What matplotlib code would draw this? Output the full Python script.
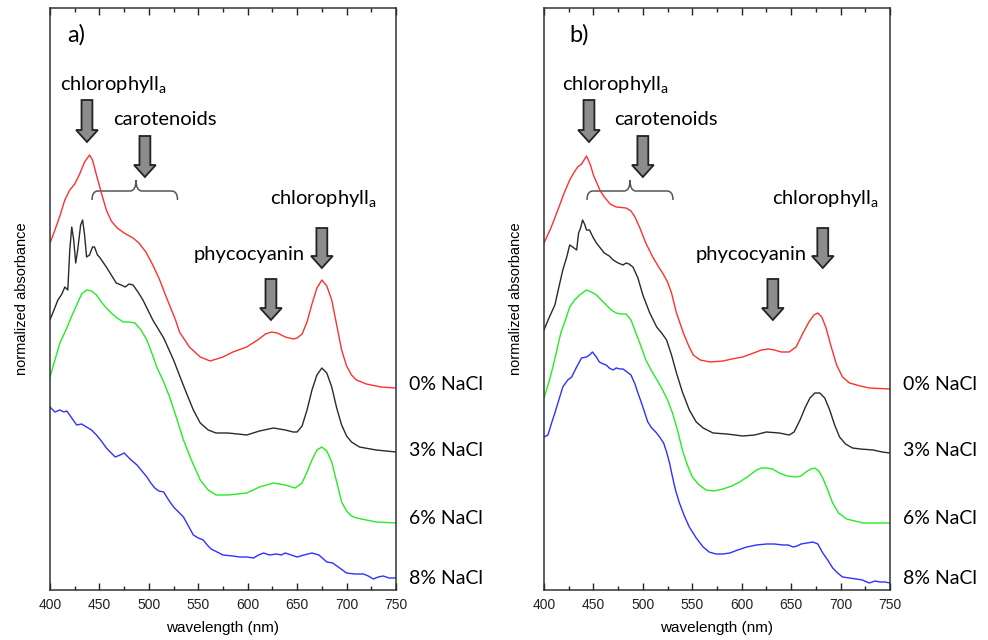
import numpy as np
import matplotlib
matplotlib.use("Agg")
import matplotlib.pyplot as plt
from matplotlib.patches import FancyArrow, PathPatch
from matplotlib.path import Path
import matplotlib.transforms as mtransforms

plt.rcParams['font.family'] = ['Liberation Sans', 'DejaVu Sans']
plt.rcParams['mathtext.fontset'] = 'custom'
plt.rcParams['mathtext.rm'] = 'Lato'

# ---- panel a) data (wavelength nm, normalized absorbance, stacked) ----
a_red_x = [400, 405, 410, 415, 420, 425, 430, 435, 440, 443, 447, 452, 457, 462, 468, 475,
           484, 490, 497, 504, 511, 518, 527, 531, 541, 552, 562, 575, 585, 599, 610, 618,
           624, 630, 638, 646, 650, 655, 660, 665, 670, 675, 680, 685, 690, 695, 700, 705,
           710, 720, 735, 750]
a_red_y = [3.47, 3.60, 3.74, 3.90, 4.00, 4.06, 4.16, 4.28, 4.35, 4.30, 4.15, 3.97, 3.80, 3.69,
           3.62, 3.57, 3.52, 3.47, 3.38, 3.25, 3.10, 2.92, 2.70, 2.58, 2.43, 2.33, 2.29, 2.33,
           2.38, 2.43, 2.50, 2.56, 2.58, 2.57, 2.53, 2.51, 2.52, 2.56, 2.68, 2.86, 3.02, 3.10,
           3.04, 2.90, 2.65, 2.40, 2.24, 2.15, 2.10, 2.06, 2.03, 2.02]

a_blk_x = [400, 404, 408, 412, 415, 418, 420, 422, 424, 426, 428, 431, 433, 435, 437, 440,
           443, 445, 448, 450, 457, 462, 467, 472, 476, 480, 484, 489, 494, 499, 504, 515,
           525, 532, 538, 545, 552, 560, 568, 580, 590, 599, 612, 626, 638, 646, 650, 655,
           660, 665, 670, 675, 680, 685, 690, 695, 700, 705, 713, 730, 750]
a_blk_y = [2.70, 2.80, 2.90, 2.96, 3.03, 3.00, 3.40, 3.63, 3.50, 3.27, 3.40, 3.65, 3.70, 3.55,
           3.33, 3.35, 3.43, 3.43, 3.35, 3.33, 3.23, 3.15, 3.07, 3.05, 3.03, 3.06, 3.05, 2.98,
           2.90, 2.80, 2.70, 2.52, 2.30, 2.12, 1.97, 1.80, 1.67, 1.60, 1.57, 1.57, 1.56, 1.55,
           1.59, 1.62, 1.60, 1.58, 1.58, 1.64, 1.80, 2.00, 2.15, 2.22, 2.17, 2.03, 1.82, 1.65,
           1.54, 1.48, 1.43, 1.40, 1.38]

a_grn_x = [400, 405, 410, 417, 422, 427, 432, 437, 442, 447, 452, 457, 463, 468, 474, 480,
           486, 492, 498, 503, 508, 515, 521, 528, 535, 543, 552, 560, 568, 580, 599, 612,
           626, 638, 648, 655, 660, 665, 670, 675, 680, 685, 690, 695, 700, 705, 710, 730, 750]
a_grn_y = [2.13, 2.30, 2.47, 2.62, 2.74, 2.85, 2.96, 3.00, 2.99, 2.95, 2.88, 2.82, 2.76, 2.72,
           2.68, 2.68, 2.67, 2.60, 2.50, 2.37, 2.23, 2.08, 1.93, 1.72, 1.50, 1.30, 1.10, 1.00,
           0.95, 0.95, 0.97, 1.03, 1.07, 1.05, 1.02, 1.07, 1.18, 1.30, 1.40, 1.43, 1.39, 1.28,
           1.08, 0.88, 0.79, 0.74, 0.72, 0.68, 0.67]

a_blu_x = [400, 405, 410, 414, 417, 422, 427, 432, 437, 442, 447, 452, 457, 462, 466, 471,
           475, 481, 488, 493, 498, 502, 506, 510, 515, 520, 525, 530, 535, 540, 545, 550,
           555, 559, 563, 569, 575, 585, 592, 599, 606, 611, 616, 622, 629, 634, 638, 644,
           650, 657, 665, 672, 680, 686, 693, 700, 708, 717, 722, 727, 732, 737, 743, 750]
a_blu_y = [1.83, 1.78, 1.80, 1.78, 1.79, 1.72, 1.65, 1.66, 1.63, 1.60, 1.55, 1.49, 1.42, 1.37,
           1.33, 1.35, 1.37, 1.31, 1.25, 1.19, 1.13, 1.07, 1.02, 0.99, 0.98, 0.90, 0.83, 0.78,
           0.73, 0.64, 0.55, 0.52, 0.50, 0.45, 0.41, 0.38, 0.35, 0.34, 0.33, 0.33, 0.32, 0.35,
           0.37, 0.35, 0.36, 0.35, 0.37, 0.35, 0.33, 0.35, 0.37, 0.35, 0.28, 0.27, 0.22, 0.17,
           0.16, 0.16, 0.14, 0.11, 0.13, 0.14, 0.12, 0.12]

# ---- panel b) data ----
b_red_x = [400, 407, 414, 420, 426, 430, 434, 438, 443, 447, 450, 453, 457, 461, 467, 473,
           483, 488, 492, 497, 503, 510, 516, 520, 525, 529, 534, 541, 546, 551, 558, 568,
           581, 590, 601, 612, 620, 627, 633, 640, 648, 655, 662, 668, 673, 677, 681, 685,
           690, 696, 702, 709, 720, 729, 750]
b_red_y = [3.47, 3.62, 3.80, 3.96, 4.10, 4.17, 4.23, 4.26, 4.34, 4.25, 4.15, 4.08, 3.99, 3.93,
           3.86, 3.83, 3.82, 3.79, 3.73, 3.62, 3.47, 3.33, 3.23, 3.17, 3.08, 2.97, 2.77, 2.57,
           2.45, 2.35, 2.30, 2.28, 2.29, 2.31, 2.33, 2.37, 2.40, 2.41, 2.40, 2.38, 2.38, 2.43,
           2.57, 2.68, 2.75, 2.77, 2.73, 2.63, 2.45, 2.25, 2.13, 2.07, 2.04, 2.02, 2.01]

b_blk_x = [400, 405, 411, 416, 419, 423, 426, 429, 433, 435, 437, 439, 441, 443, 446, 450,
           453, 457, 461, 466, 470, 475, 480, 483, 486, 490, 495, 500, 507, 514, 519, 524,
           529, 534, 540, 547, 554, 561, 571, 585, 601, 613, 625, 638, 648, 653, 659, 664,
           669, 674, 679, 684, 689, 694, 699, 705, 712, 720, 733, 742, 750]
b_blk_y = [2.60, 2.72, 2.85, 3.07, 3.20, 3.33, 3.45, 3.43, 3.40, 3.57, 3.62, 3.70, 3.66, 3.60,
           3.60, 3.52, 3.47, 3.42, 3.37, 3.34, 3.30, 3.27, 3.25, 3.27, 3.26, 3.23, 3.12, 2.95,
           2.77, 2.63, 2.57, 2.50, 2.35, 2.17, 1.98, 1.80, 1.68, 1.62, 1.57, 1.56, 1.54, 1.55,
           1.58, 1.57, 1.55, 1.58, 1.70, 1.82, 1.92, 1.97, 1.97, 1.92, 1.80, 1.65, 1.53, 1.46,
           1.42, 1.41, 1.40, 1.38, 1.37]

b_grn_x = [400, 405, 409, 413, 417, 422, 426, 431, 436, 443, 448, 453, 458, 463, 468, 473,
           478, 483, 488, 493, 498, 503, 510, 515, 520, 525, 530, 535, 540, 545, 550, 557,
           564, 572, 581, 590, 598, 607, 615, 620, 625, 631, 638, 646, 655, 660, 665, 670,
           674, 678, 682, 687, 692, 698, 706, 723, 750]
b_grn_y = [1.92, 2.08, 2.23, 2.40, 2.57, 2.71, 2.83, 2.90, 2.95, 3.00, 2.98, 2.95, 2.90, 2.85,
           2.80, 2.77, 2.76, 2.76, 2.70, 2.57, 2.44, 2.30, 2.17, 2.09, 2.00, 1.90, 1.77, 1.60,
           1.40, 1.25, 1.13, 1.05, 1.00, 0.99, 1.01, 1.04, 1.08, 1.14, 1.20, 1.22, 1.22, 1.21,
           1.17, 1.14, 1.13, 1.14, 1.18, 1.21, 1.22, 1.19, 1.12, 1.00, 0.87, 0.77, 0.71, 0.67,
           0.67]

b_blu_x = [400, 404, 408, 411, 415, 419, 424, 428, 433, 438, 443, 446, 449, 453, 456, 460,
           463, 466, 470, 473, 477, 480, 484, 488, 492, 495, 499, 502, 505, 509, 513, 517,
           521, 524, 527, 530, 533, 537, 542, 547, 554, 561, 567, 574, 581, 588, 596, 605,
           615, 625, 633, 642, 647, 652, 656, 660, 666, 672, 677, 682, 687, 692, 697, 702,
           709, 716, 722, 729, 735, 740, 745, 750]
b_blu_y = [1.53, 1.55, 1.68, 1.77, 1.90, 2.03, 2.10, 2.13, 2.23, 2.32, 2.33, 2.35, 2.38, 2.33,
           2.28, 2.26, 2.25, 2.22, 2.20, 2.22, 2.21, 2.21, 2.18, 2.15, 2.06, 1.97, 1.86, 1.77,
           1.68, 1.62, 1.58, 1.53, 1.47, 1.38, 1.27, 1.13, 1.00, 0.87, 0.74, 0.63, 0.52, 0.43,
           0.38, 0.36, 0.36, 0.37, 0.40, 0.43, 0.45, 0.46, 0.46, 0.45, 0.45, 0.43, 0.44, 0.46,
           0.47, 0.48, 0.46, 0.37, 0.30, 0.22, 0.17, 0.13, 0.12, 0.11, 0.10, 0.07, 0.09, 0.08,
           0.08, 0.07]

labels = ['0% NaCl', '3% NaCl', '6% NaCl', '8% NaCl']
label_y = [2.05, 1.40, 0.72, 0.12]
colors = ['#ff3030', '#2a2a2a', '#22ee22', '#3030ff']

panels = [
    dict(tag='a)', curves=[(a_red_x, a_red_y), (a_blk_x, a_blk_y), (a_grn_x, a_grn_y), (a_blu_x, a_blu_y)],
         chl1=(410, 437.4), car=(463.7, 496), brace=(442.5, 487, 529), chl2=(622.5, 675), phy=(545.6, 623.5)),
    dict(tag='b)', curves=[(b_red_x, b_red_y), (b_blk_x, b_blk_y), (b_grn_x, b_grn_y), (b_blu_x, b_blu_y)],
         chl1=(418.2, 445.5), car=(470.8, 500), brace=(443.5, 487, 530.5), chl2=(630.6, 682), phy=(553.8, 631.5)),
]


def down_arrow(ax, x, ytop, ytip):
    ar = FancyArrow(x, ytop, 0, ytip - ytop, width=11, head_width=22, head_length=0.12,
                    length_includes_head=True, facecolor='#8c8c8c', edgecolor='#222222', lw=1.3)
    ax.add_patch(ar)


def brace(ax, x0, xm, x1, y, h=0.09, t=0.11, r=6):
    verts = [(x0, y - h), (x0, y), (x0 + r, y),
             (xm - r, y), (xm, y), (xm, y + t),
             (xm, y), (xm + r, y),
             (x1 - r, y), (x1, y), (x1, y - h)]
    codes = [Path.MOVETO, Path.CURVE3, Path.CURVE3,
             Path.LINETO, Path.CURVE3, Path.CURVE3,
             Path.CURVE3, Path.CURVE3,
             Path.LINETO, Path.CURVE3, Path.CURVE3]
    ax.add_patch(PathPatch(Path(verts, codes), fill=False, edgecolor='#555555', lw=1.1))


fig = plt.figure(figsize=(9.88, 6.40), dpi=100)
lefts = [50 / 988, 544 / 988]
tfont = dict(family=['Lato', 'DejaVu Sans'], fontsize=14.5)

for left, p in zip(lefts, panels):
    ax = fig.add_axes([left, 50 / 640, 346 / 988, 582 / 640])
    for (xs, ys), c in zip(p['curves'], colors):
        ax.plot(xs, ys, color=c, lw=1.0)
    ax.set_xlim(400, 750)
    ax.set_ylim(0, 5.82)
    ax.set_yticks([])
    ax.set_xticks(np.arange(400, 751, 50))
    ax.set_xticks(np.arange(425, 750, 50), minor=True)
    ax.tick_params(axis='x', which='both', direction='in', top=True, labelsize=10, pad=6, colors='#222222')
    ax.tick_params(axis='x', which='major', length=5, width=1)
    ax.tick_params(axis='x', which='minor', length=3, width=1)
    for s in ax.spines.values():
        s.set_color('#333333')
        s.set_linewidth(1.1)
    ax.set_xlabel('wavelength (nm)', fontsize=11, labelpad=6)
    ax.set_ylabel('normalized absorbance', fontsize=10.5, labelpad=15)

    ax.text(p['chl1'][0] + 7, 5.55, p['tag'], va='center', ha='left', **{**tfont, 'fontsize': 17})
    ax.text(p['chl1'][0], 4.99, 'chlorophyll$_\\mathrm{a}$', va='baseline', ha='left', **tfont)
    down_arrow(ax, p['chl1'][1], 4.90, 4.48)
    ax.text(p['car'][0], 4.65, 'carotenoids', va='baseline', ha='left', **tfont)
    down_arrow(ax, p['car'][1], 4.54, 4.13)
    brace(ax, p['brace'][0], p['brace'][1], p['brace'][2], 3.99)
    ax.text(p['chl2'][0], 3.85, 'chlorophyll$_\\mathrm{a}$', va='baseline', ha='left', **tfont)
    down_arrow(ax, p['chl2'][1], 3.62, 3.22)
    ax.text(p['phy'][0], 3.30, 'phycocyanin', va='baseline', ha='left', **tfont)
    down_arrow(ax, p['phy'][1], 3.11, 2.70)

    trans = mtransforms.blended_transform_factory(ax.transAxes, ax.transData)
    for lab, ly in zip(labels, label_y):
        ax.text(1 + 13 / 346, ly, lab, transform=trans, va='center', ha='left',
                **{**tfont, 'fontsize': 14})

fig.savefig('out.png', dpi=100)
